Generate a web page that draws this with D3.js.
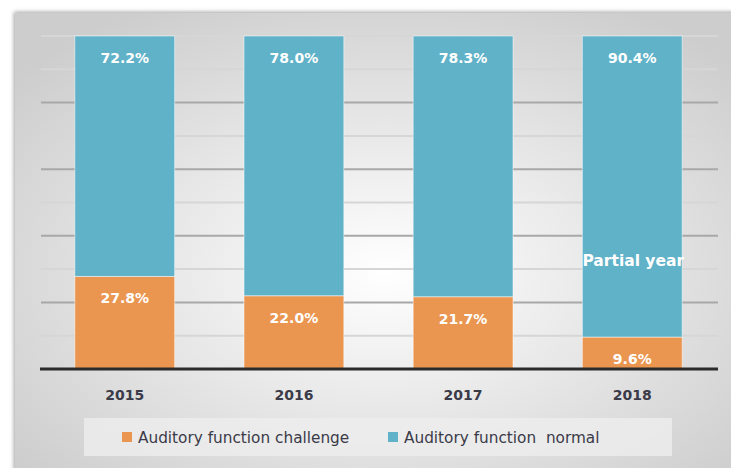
<html>
<head>
<style>
  body { margin: 0; background: #fff; }
  svg text { font-family: "DejaVu Sans", sans-serif; }
</style>
</head>
<body>
<svg width="731" height="468"></svg>
<script src="https://d3js.org/d3.v7.min.js"></script>
<script>
var years = ["2015", "2016", "2017", "2018"];
var challenge = [27.8, 22.0, 21.7, 9.6];
var normal = [72.2, 78.0, 78.3, 90.4];
var seriesNames = ["Auditory function challenge", "Auditory function  normal"];
var gridTicks = [10, 20, 30, 40, 50, 60, 70, 80, 90, 100];

var svg = d3.select("svg");
var blue = "#60b2c8", orange = "#ea9650";

// frame background
var defs = svg.append("defs");
var rg = defs.append("radialGradient").attr("id", "bg")
  .attr("cx", "50%").attr("cy", "55%").attr("r", "65%");
rg.append("stop").attr("offset", "0%").attr("stop-color", "#ffffff");
rg.append("stop").attr("offset", "100%").attr("stop-color", "#cdcdcd");
var f = defs.append("filter").attr("id", "sh").attr("x", "-5%").attr("y", "-5%").attr("width", "110%").attr("height", "110%");
f.append("feDropShadow").attr("dx", -1).attr("dy", -1).attr("stdDeviation", 2).attr("flood-color", "#777").attr("flood-opacity", 0.7);

svg.append("rect").attr("x", 15).attr("y", 13).attr("width", 740).attr("height", 470)
  .attr("fill", "url(#bg)").attr("filter", "url(#sh)");

var x = d3.scaleBand().domain(years).range([41, 716]).paddingInner(0.41).paddingOuter(0.2);
var y = d3.scaleLinear().domain([0, 100]).range([369, 36]);

// gridlines
svg.append("g").selectAll("line").data(gridTicks).join("line")
  .attr("x1", 41).attr("x2", 718)
  .attr("y1", d => y(d)).attr("y2", d => y(d))
  .attr("stroke", d => (d % 20 == 0 && d < 100) ? "#a8a8a8" : "#d6d6d6")
  .attr("stroke-width", 2);

var rows = years.map((yr, i) => ({ year: yr, challenge: challenge[i], normal: normal[i] }));
var stack = d3.stack().keys(["challenge", "normal"])(rows);
var colors = [orange, blue];

var layers = svg.append("g").selectAll("g").data(stack).join("g")
  .attr("fill", (d, i) => colors[i]);
layers.selectAll("rect").data(d => d).join("rect")
  .attr("x", d => x(d.data.year))
  .attr("width", x.bandwidth())
  .attr("y", d => y(d[1]))
  .attr("height", d => y(d[0]) - y(d[1]))
  .attr("stroke", "rgba(255,255,255,0.5)").attr("stroke-width", 1);

// value labels
svg.append("g").selectAll("text").data(rows).join("text")
  .attr("x", d => x(d.year) + x.bandwidth() / 2)
  .attr("y", d => y(100) + 27)
  .attr("text-anchor", "middle").attr("fill", "#fff")
  .attr("font-size", 14).attr("font-weight", "bold")
  .text(d => d.normal.toFixed(1) + "%");

svg.append("g").selectAll("text").data(rows).join("text")
  .attr("x", d => x(d.year) + x.bandwidth() / 2)
  .attr("y", d => y(d.challenge) + 27)
  .attr("text-anchor", "middle").attr("fill", "#fff")
  .attr("font-size", 14).attr("font-weight", "bold")
  .text(d => d.challenge.toFixed(1) + "%");

svg.append("text")
  .attr("x", x("2018") + x.bandwidth() / 2 + 1).attr("y", 266)
  .attr("text-anchor", "middle").attr("fill", "#fff")
  .attr("font-size", 15.5).attr("font-weight", "bold")
  .text("Partial year");

// baseline
svg.append("line").attr("x1", 40).attr("x2", 718).attr("y1", y(0)).attr("y2", y(0))
  .attr("stroke", "#2b2b2b").attr("stroke-width", 3);

// x axis labels
var xAxis = svg.append("g").attr("transform", "translate(0," + y(0) + ")")
  .call(d3.axisBottom(x).tickSize(0).tickPadding(21));
xAxis.select(".domain").remove();
xAxis.selectAll("text").attr("font-size", 14).attr("font-weight", "bold").attr("fill", "#3a3a48")
  .attr("font-family", "\"DejaVu Sans\", sans-serif");

// legend
svg.append("rect").attr("x", 84).attr("y", 418).attr("width", 588).attr("height", 38)
  .attr("fill", "#ededed").attr("opacity", 0.8);
var legX = [122, 388];
var lg = svg.append("g").selectAll("g").data(seriesNames).join("g")
  .attr("transform", (d, i) => "translate(" + legX[i] + ",0)");
lg.append("rect").attr("x", 0).attr("y", 432).attr("width", 10).attr("height", 10)
  .attr("fill", (d, i) => colors[i]);
lg.append("text").attr("x", 16).attr("y", 443).attr("font-size", 15.3).attr("fill", "#3a3a48")
  .attr("xml:space", "preserve").style("white-space", "pre")
  .text(d => d);
</script>
</body>
</html>
